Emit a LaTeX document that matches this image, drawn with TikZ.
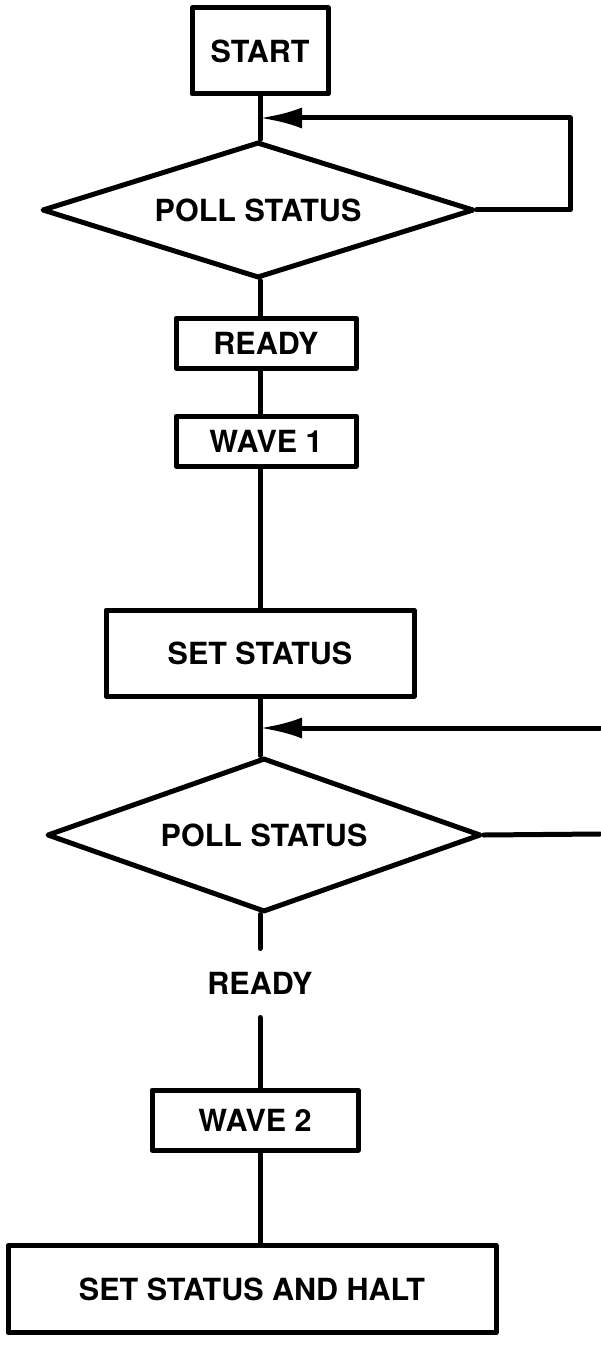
\documentclass[tikz,border=0pt]{standalone}
\usepackage{fontspec}
\setmainfont{TeX Gyre Heros}
\usetikzlibrary{arrows.meta,positioning,shapes.geometric}

\begin{document}
\begin{tikzpicture}[
      x=1pt,
      y=-1pt,
      line join=round,
      line cap=round,
      line width=5pt,
      font=\fontsize{30.5}{33}\selectfont\bfseries,
      stepbox/.style={draw, rectangle, inner sep=0pt},
      pollbox/.style={draw, diamond, inner sep=0pt},
      back/.style={-{Latex[length=42pt,width=21pt]}}
    ]
      % Page frame, one unit per pixel of the scan.
      \useasboundingbox (0,0) rectangle (600,1348);

      % Upper half: first poll loop.
      \node[stepbox, minimum width=136pt, minimum height=86pt] (start) at (260,51) {START};
      \node[pollbox, aspect=3.2, minimum width=432pt, minimum height=136pt] (poll1) at (258,210) {POLL STATUS};
      \node[stepbox, minimum width=180pt, minimum height=50pt] (ready1) at (266,343) {READY};
      \node[stepbox, minimum width=180pt, minimum height=50pt] (wave1) at (266,441) {WAVE 1};
      \node[stepbox, minimum width=308pt, minimum height=86pt] (setstat) at (260,653) {SET STATUS};

      % Lower half: second poll, cut off at the right edge.
      \node[pollbox, aspect=2.8, minimum width=434pt, minimum height=154pt] (poll2) at (264,835) {POLL STATUS};
      \node[inner sep=0pt, minimum height=64pt] (ready2) at (260,983) {READY};
      \node[stepbox, minimum width=206pt, minimum height=60pt] (wave2) at (255,1120) {WAVE 2};
      \node[stepbox, minimum width=488pt, minimum height=87pt] (halt) at (252,1289) {SET STATUS AND HALT};

      \coordinate (corner1) at (570,118);
      \coordinate (edge2in) at (600,728);
      \coordinate (edge2out) at (600,834);

      % Main spine.
      \draw (start) -- (start.south |- poll1.north);
      \draw (start.south |- poll1.south) -- (start.south |- ready1.north);
      \draw (start.south |- ready1.south) -- (start.south |- wave1.north);
      \draw (start.south |- wave1.south) -- (start.south |- setstat.north);
      \draw (setstat) -- (setstat.south |- poll2.north);
      \draw (poll2.south -| setstat.south) -- (setstat.south |- ready2.north);
      \draw (ready2.south) -- (ready2.south |- wave2.north);
      \draw (wave2.south -| ready2.south) -- (ready2.south |- halt.north);

      % Return paths.
      \draw[back] (poll1.east) -| (corner1) -- (start.south |- corner1);
      \draw (poll2.east) -- (edge2out);
      \draw[back] (edge2in) -- (setstat.south |- edge2in);
    \end{tikzpicture}
\end{document}
